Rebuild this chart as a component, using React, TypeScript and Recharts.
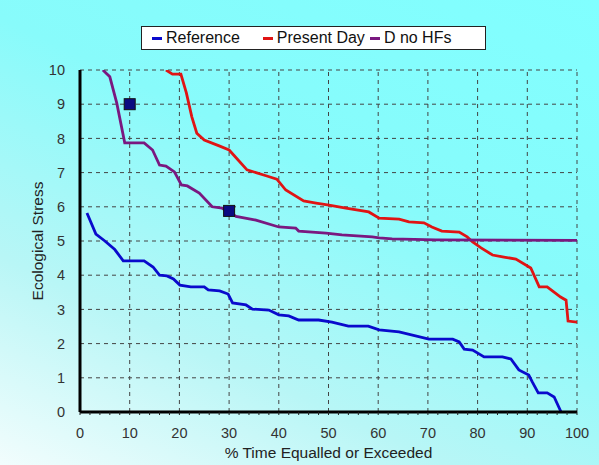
import React from 'react';
import {
  ComposedChart,
  Line,
  Scatter,
  XAxis,
  YAxis,
  CartesianGrid,
  ReferenceLine,
  Legend,
} from 'recharts';

// duration curves: x = % time equalled or exceeded, y = stress
const referenceCurve = [
  { x: 1.4, y: 5.82 }, { x: 3.2, y: 5.2 }, { x: 5, y: 5.0 }, { x: 7, y: 4.75 },
  { x: 8.7, y: 4.42 }, { x: 12.9, y: 4.42 }, { x: 14.7, y: 4.24 }, { x: 16, y: 4.0 },
  { x: 17.5, y: 3.98 }, { x: 18.8, y: 3.89 }, { x: 20.1, y: 3.71 }, { x: 22.3, y: 3.66 },
  { x: 25, y: 3.66 }, { x: 25.8, y: 3.57 }, { x: 28.1, y: 3.54 }, { x: 29.8, y: 3.45 },
  { x: 30.7, y: 3.19 }, { x: 33.4, y: 3.13 }, { x: 34.7, y: 3.01 }, { x: 38, y: 2.98 },
  { x: 40, y: 2.84 }, { x: 42, y: 2.81 }, { x: 44, y: 2.69 }, { x: 48, y: 2.69 },
  { x: 50.7, y: 2.63 }, { x: 54, y: 2.51 }, { x: 58, y: 2.51 }, { x: 60.2, y: 2.4 },
  { x: 64.2, y: 2.34 }, { x: 70.2, y: 2.13 }, { x: 75, y: 2.13 }, { x: 76.3, y: 2.05 },
  { x: 77.3, y: 1.84 }, { x: 79, y: 1.81 }, { x: 81.3, y: 1.61 }, { x: 85, y: 1.61 },
  { x: 86.7, y: 1.55 }, { x: 88.3, y: 1.23 }, { x: 90.3, y: 1.08 }, { x: 91, y: 0.88 },
  { x: 92.2, y: 0.56 }, { x: 94, y: 0.56 }, { x: 95.4, y: 0.44 }, { x: 96.8, y: 0 },
];

const presentDayCurve = [
  { x: 17.3, y: 10 }, { x: 18.6, y: 9.88 }, { x: 20.3, y: 9.88 }, { x: 21.4, y: 9.33 },
  { x: 22.5, y: 8.63 }, { x: 23.5, y: 8.15 }, { x: 25, y: 7.95 }, { x: 28, y: 7.78 },
  { x: 30, y: 7.66 }, { x: 31, y: 7.5 }, { x: 33.6, y: 7.08 }, { x: 37.6, y: 6.9 },
  { x: 39.6, y: 6.81 }, { x: 41.4, y: 6.49 }, { x: 45, y: 6.17 }, { x: 47.5, y: 6.11 },
  { x: 50.1, y: 6.05 }, { x: 53.5, y: 5.96 }, { x: 58.1, y: 5.85 }, { x: 60.2, y: 5.67 },
  { x: 64.2, y: 5.64 }, { x: 66.2, y: 5.56 }, { x: 69.2, y: 5.53 }, { x: 70.8, y: 5.41 },
  { x: 72.8, y: 5.29 }, { x: 76.3, y: 5.26 }, { x: 77.9, y: 5.12 }, { x: 79, y: 4.97 },
  { x: 80.7, y: 4.8 }, { x: 83, y: 4.59 }, { x: 85.3, y: 4.53 }, { x: 87.7, y: 4.47 },
  { x: 90.7, y: 4.21 }, { x: 92.4, y: 3.66 }, { x: 94, y: 3.66 }, { x: 96.7, y: 3.36 },
  { x: 97.8, y: 3.27 }, { x: 98.2, y: 2.66 }, { x: 100, y: 2.63 },
];

const noHfCurve = [
  { x: 4.6, y: 10 }, { x: 6, y: 9.8 }, { x: 7.4, y: 9.03 }, { x: 9, y: 7.87 },
  { x: 12.9, y: 7.87 }, { x: 14.6, y: 7.66 }, { x: 16, y: 7.22 }, { x: 17.3, y: 7.19 },
  { x: 19, y: 7.02 }, { x: 20.4, y: 6.64 }, { x: 21.6, y: 6.61 }, { x: 24, y: 6.4 },
  { x: 26.6, y: 6.0 }, { x: 28.6, y: 5.96 }, { x: 30, y: 5.85 }, { x: 31.4, y: 5.72 },
  { x: 35.4, y: 5.61 }, { x: 40, y: 5.41 }, { x: 43.4, y: 5.38 }, { x: 44, y: 5.29 },
  { x: 49.5, y: 5.23 }, { x: 52.7, y: 5.18 }, { x: 58.8, y: 5.12 }, { x: 60.2, y: 5.09 },
  { x: 62.8, y: 5.06 }, { x: 71.6, y: 5.03 }, { x: 100, y: 5.02 },
];

const targetPoints = [
  { x: 10, y: 9.0 },
  { x: 30, y: 5.88 },
];

const xMajorTicks = [0, 10, 20, 30, 40, 50, 60, 70, 80, 90, 100];
const xMinorTicks = [
  0, 2, 4, 6, 8, 10, 12, 14, 16, 18, 20, 22, 24, 26, 28, 30, 32, 34, 36, 38, 40, 42, 44, 46, 48, 50,
  52, 54, 56, 58, 60, 62, 64, 66, 68, 70, 72, 74, 76, 78, 80, 82, 84, 86, 88, 90, 92, 94, 96, 98, 100,
];
const yTicks = [0, 1, 2, 3, 4, 5, 6, 7, 8, 9, 10];

const legendItems = [
  { name: 'Reference', color: '#0a0acc', gap: 23 },
  { name: 'Present Day', color: '#e01414', gap: 5 },
  { name: 'D no HFs', color: '#7a1880', gap: 0 },
];

const FONT = '"Liberation Sans", Arial, sans-serif';

const XTick = (props: any) => {
  const { x, y, payload } = props;
  if (payload.value % 10 !== 0) return null;
  return (
    <text x={x} y={y + 21} textAnchor="middle" fill="#333" fontSize={14.5} fontFamily={FONT}>
      {payload.value}
    </text>
  );
};

const LegendBox = () => (
  <div
    style={{
      background: '#fff',
      border: '1px solid #222',
      height: 24,
      display: 'flex',
      alignItems: 'center',
      paddingLeft: 10,
      fontFamily: FONT,
      fontSize: 16,
      color: '#111',
      boxSizing: 'border-box',
    }}
  >
    {legendItems.map((it) => (
      <span key={it.name} style={{ display: 'flex', alignItems: 'center', marginRight: it.gap }}>
        <span style={{ display: 'inline-block', width: 10, height: 3, background: it.color, marginRight: 4 }} />
        {it.name}
      </span>
    ))}
  </div>
);

const Square = (props: any) => {
  const { cx, cy } = props;
  return <rect x={cx - 5.5} y={cy - 5.5} width={11} height={11} fill="#0b0b80" stroke="#111" strokeWidth={1} />;
};

export default function App() {
  return (
    <div
      style={{
        position: 'absolute',
        left: 0,
        top: 0,
        width: 599,
        height: 465,
        background: 'linear-gradient(205deg, #80ffff 0%, #88fbfb 40%, #b8f6f6 72%, #f2fdfd 100%)',
      }}
    >
      <ComposedChart width={599} height={465} margin={{ top: 70, right: 22, bottom: 0, left: 0 }}>
        <CartesianGrid vertical={false} stroke="#444" strokeDasharray="4 4" />
        {xMajorTicks.slice(1).map((t) => (
          <ReferenceLine key={t} x={t} stroke="#444" strokeDasharray="4 4" />
        ))}
        <XAxis
          type="number"
          dataKey="x"
          domain={[0, 100]}
          ticks={xMinorTicks}
          interval={0}
          height={53}
          allowDataOverflow
          axisLine={{ stroke: '#000', strokeWidth: 3 }}
          tickLine={{ stroke: '#222' }}
          tickSize={3}
          tick={<XTick />}
          label={{
            value: '% Time Equalled or Exceeded',
            position: 'insideBottom',
            offset: 7,
            fill: '#222',
            fontSize: 15.5,
            fontFamily: FONT,
          }}
        />
        <YAxis
          type="number"
          dataKey="y"
          domain={[0, 10]}
          ticks={yTicks}
          interval={0}
          width={80}
          allowDataOverflow
          axisLine={{ stroke: '#000', strokeWidth: 3 }}
          tickLine={false}
          tickMargin={9}
          tick={{ fill: '#333', fontSize: 14.5, fontFamily: FONT }}
          label={{
            value: 'Ecological Stress',
            angle: -90,
            position: 'insideLeft',
            offset: 37,
            style: { textAnchor: 'middle' },
            fill: '#222',
            fontSize: 15.5,
            fontFamily: FONT,
          }}
        />
        <Legend
          verticalAlign="middle"
          align="center"
          content={<LegendBox />}
          wrapperStyle={{ top: 26, left: 141, width: 345, height: 24 }}
        />
        <Line data={referenceCurve} dataKey="y" name="Reference" type="linear" stroke="#0a0acc" strokeWidth={2.8} dot={false} isAnimationActive={false} />
        <Line data={presentDayCurve} dataKey="y" name="Present Day" type="linear" stroke="#e01414" strokeWidth={2.8} dot={false} isAnimationActive={false} />
        <Line data={noHfCurve} dataKey="y" name="D no HFs" type="linear" stroke="#7a1880" strokeWidth={2.8} dot={false} isAnimationActive={false} />
        <Scatter data={targetPoints} dataKey="y" shape={<Square />} isAnimationActive={false} legendType="none" />
      </ComposedChart>
    </div>
  );
}
